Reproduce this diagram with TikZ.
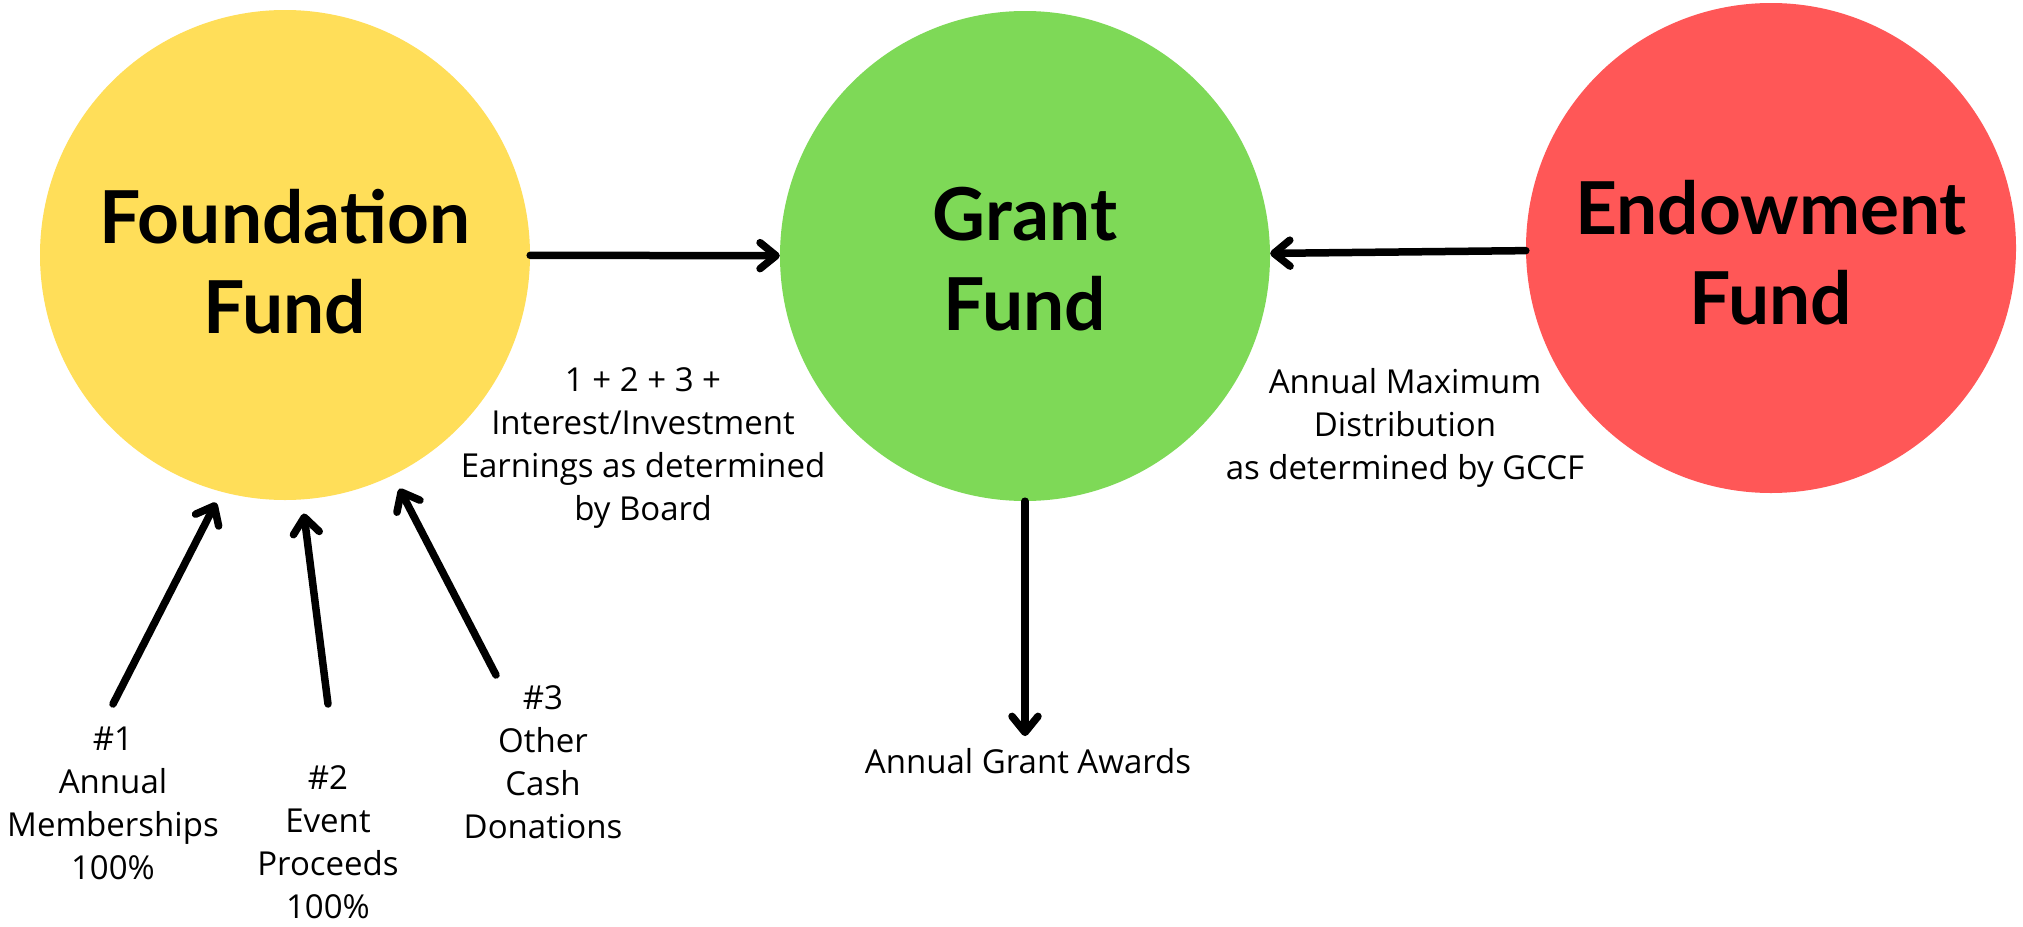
\documentclass[tikz,border=0pt]{standalone}
\usepackage{fontspec}
\setmainfont{Open Sans}
\newfontfamily\titlefont{Lato}
\usetikzlibrary{arrows.meta}
\definecolor{cyellow}{HTML}{FFDE59}
\definecolor{cgreen}{HTML}{7ED957}
\definecolor{cred}{HTML}{FF5757}
\begin{document}
\begin{tikzpicture}[x=1pt,y=-1pt,
  fund/.style={circle, minimum size=490pt, inner sep=0pt},
  title/.style={align=center, inner sep=0pt,
    font=\titlefont\fontsize{73}{90}\selectfont\bfseries},
  lbl/.style={align=center, font=\fontsize{33}{43}\selectfont, inner sep=0pt},
  arr/.style={line width=7.5pt, line cap=round,
    -{Straight Barb[length=16pt,width=26pt,round]}}]
\useasboundingbox[fill=white] (0,0) rectangle (2023,926);
\node[fund, fill=cyellow] (fnd) at (285,255) {};
\node[fund, fill=cgreen] (grant) at (1025,256) {};
\node[fund, fill=cred] (endw) at (1771,248) {};
\node[title] (fndt) at ([yshift=-7pt]fnd.center) {Foundation\\Fund};
\node[title] (grantt) at ([yshift=-3pt]grant.center) {Grant\\Fund};
\node[title] (endwt) at ([yshift=-5pt]endw.center) {Endowment\\Fund};

\node[lbl] (sum) at (643,448) {1 + 2 + 3 +\\Interest/Investment\\Earnings as determined\\by Board};
\node[lbl] (dist) at (1405,428) {Annual Maximum\\Distribution\\as determined by GCCF};
\node[lbl, inner sep=12pt] (awards) at (1028,761) {Annual Grant Awards};
\node[lbl] (l1) at (113,803) {\#1\\Annual\\Memberships\\100\%};
\node[lbl] (l2) at (328,842) {\#2\\Event\\Proceeds\\100\%};
\node[lbl] (l3) at (543,762) {\#3\\Other\\Cash\\Donations};

\coordinate (s1) at (113,704);
\coordinate (s2) at (328,704);
\coordinate (s3) at (496,675);

\draw[arr] (fnd) -- (grant);
\draw[arr] (endw) -- (grant);
\draw[arr] (grant.south) -- (grant.south |- awards.north);
\draw[arr, shorten >=12pt] (s1) -- (fnd.-105);
\draw[arr, shorten >=14pt] (s2) -- (fnd.-86);
\draw[arr, shorten >=15pt] (s3) -- (fnd.-64);
\end{tikzpicture}
\end{document}
